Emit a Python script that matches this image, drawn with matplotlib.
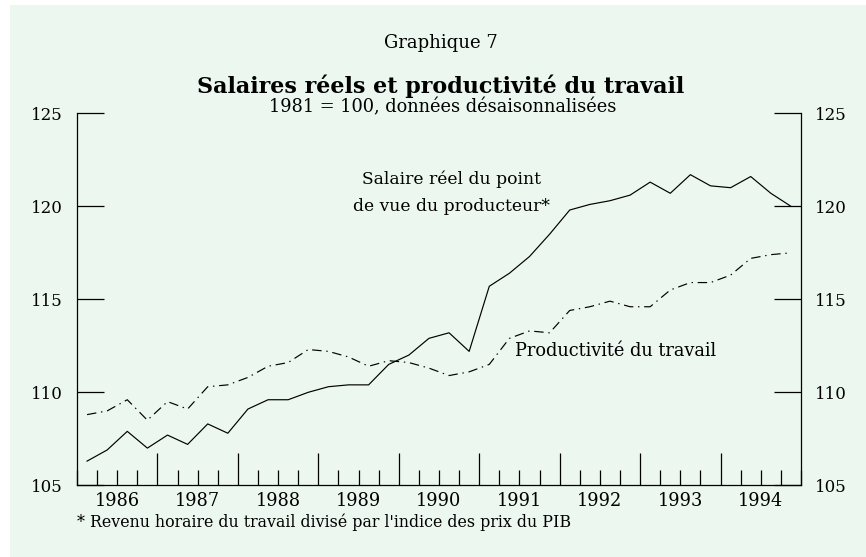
import numpy as np
import matplotlib
matplotlib.use("Agg")
import matplotlib.pyplot as plt
from matplotlib.patches import Rectangle

# --- données trimestrielles 1986T1 - 1994T4 (1981 = 100) ---
years = list(range(1986, 1995))
salaire = [106.3, 106.9, 107.9, 107.0, 107.7, 107.2, 108.3, 107.8,
           109.1, 109.6, 109.6, 110.0, 110.3, 110.4, 110.4, 111.5,
           112.0, 112.9, 113.2, 112.2, 115.7, 116.4, 117.3, 118.5,
           119.8, 120.1, 120.3, 120.6, 121.3, 120.7, 121.7, 121.1,
           121.0, 121.6, 120.7, 120.0]
productivite = [108.8, 109.0, 109.6, 108.5, 109.5, 109.1, 110.3, 110.4,
                110.8, 111.4, 111.6, 112.3, 112.2, 111.9, 111.4, 111.7,
                111.6, 111.3, 110.9, 111.1, 111.5, 112.9, 113.3, 113.2,
                114.4, 114.6, 114.9, 114.6, 114.6, 115.5, 115.9, 115.9,
                116.3, 117.2, 117.4, 117.5]
yticks = [105, 110, 115, 120, 125]

quarters = np.array([y + (q - 0.5) / 4 for y in years for q in range(1, 5)])

plt.rcParams['font.family'] = ['DejaVu Serif']
bg = '#ecf7ef'

fig = plt.figure(figsize=(8.66, 5.57), dpi=100)
fig.patch.set_facecolor('white')
fig.patches.append(Rectangle((10 / 866, 0), 1, 1 - 5 / 557, transform=fig.transFigure,
                             facecolor=bg, edgecolor='none', zorder=-10))

ax = fig.add_axes([77 / 866, 1 - 485.3 / 557, (801 - 77) / 866, (485.3 - 113.3) / 557])
ax.set_facecolor(bg)

ax.plot(quarters, salaire, color='black', linewidth=0.85)
ax.plot(quarters, productivite, color='black', linewidth=0.85,
        linestyle=(0, (8, 4, 1.2, 4)))

ax.set_xlim(years[0], years[-1] + 1)
ax.set_ylim(105, 125)

ax.spines['top'].set_visible(False)
for s in ['left', 'right', 'bottom']:
    ax.spines[s].set_linewidth(0.9)

# axe Y des deux côtés
ax.set_yticks(yticks)
ax.tick_params(axis='y', which='both', direction='in', length=19.5, width=0.9,
               left=True, right=True, labelleft=True, labelright=True,
               labelsize=12, pad=10)

# graduations X : longues aux années, courtes aux trimestres
ax.set_xticks(years[1:])
ax.set_xticklabels([])
ax.set_xticks(np.arange(years[0], years[-1] + 1.01, 0.25), minor=True)
ax.tick_params(axis='x', which='major', direction='in', length=23, width=0.9)
ax.tick_params(axis='x', which='minor', direction='in', length=10.8, width=0.9)

sec = ax.secondary_xaxis('bottom')
sec.set_xticks([y + 0.5 for y in years])
sec.set_xticklabels([str(y) for y in years])
sec.tick_params(length=0, labelsize=12.8, pad=5)
sec.spines['bottom'].set_visible(False)

# textes
fig.text(441 / 866, 1 - 43 / 557, 'Graphique 7', ha='center', va='center', fontsize=13)
fig.text(441 / 866, 1 - 86 / 557, 'Salaires réels et productivité du travail',
         ha='center', va='center', fontsize=16, fontweight='bold')
fig.text(443 / 866, 1 - 107 / 557, '1981 = 100, données désaisonnalisées',
         ha='center', va='center', fontsize=12.8)

ax.text(1990.65, 120.72, 'Salaire réel du point\nde vue du producteur*',
        ha='center', va='center', fontsize=12.3, linespacing=1.78)
ax.text(1991.44, 112.2, 'Productivité du travail', ha='left', va='center', fontsize=12.8)

fig.text(77 / 866, 1 - 522 / 557,
         "* Revenu horaire du travail divisé par l'indice des prix du PIB",
         ha='left', va='center', fontsize=11.4)

fig.savefig('out.png', dpi=100, facecolor=fig.get_facecolor())
